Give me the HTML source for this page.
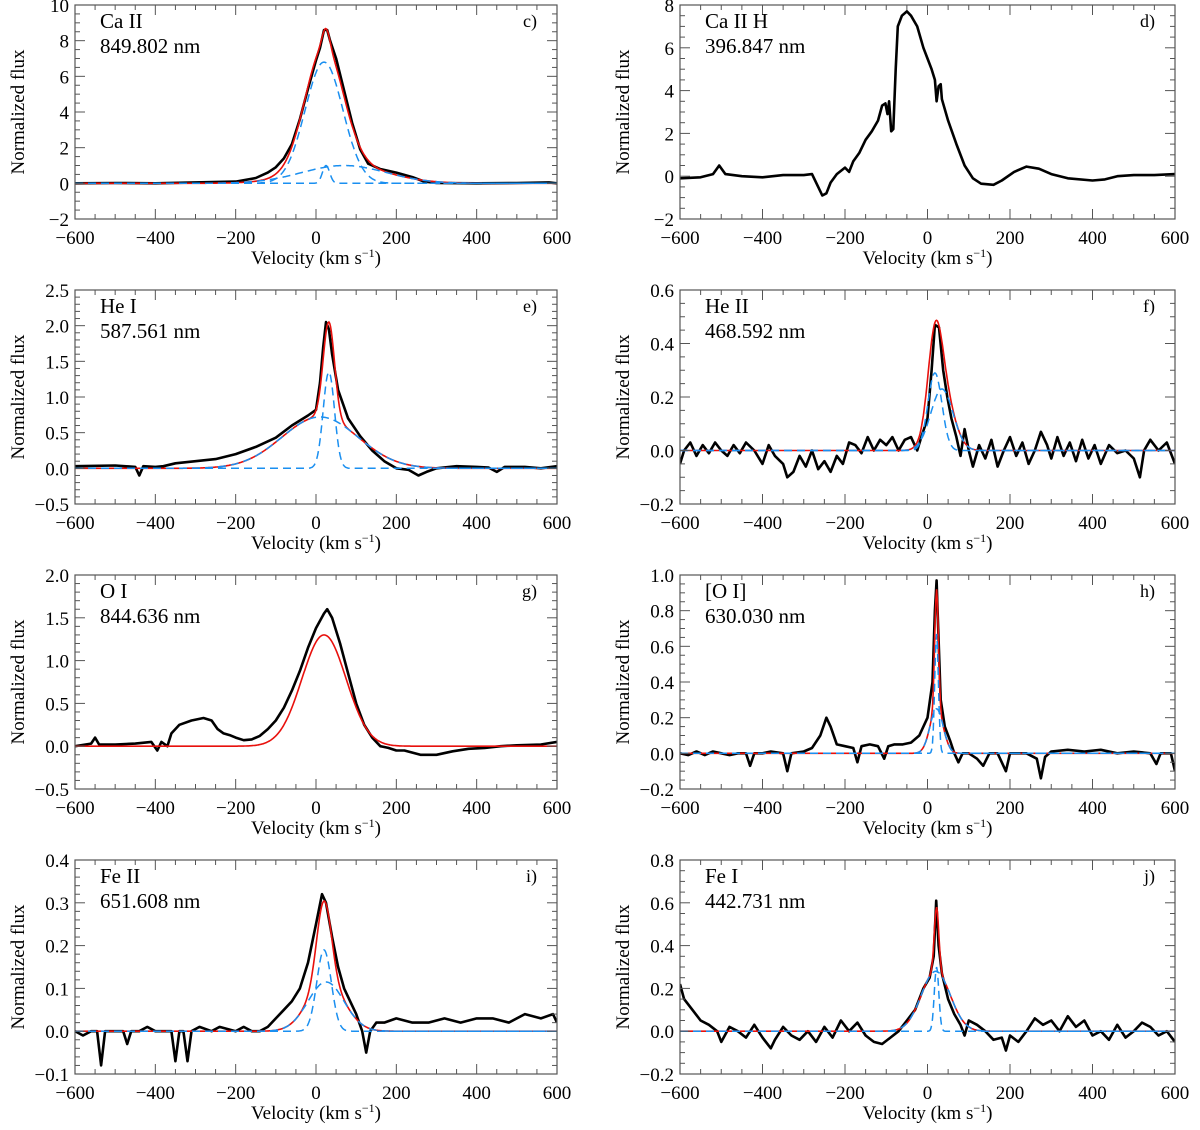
<!DOCTYPE html>
<html><head><meta charset="utf-8"><style>
body{margin:0;background:#fff;}
svg text{font-family:"Liberation Serif",serif;fill:#000;}
</style></head><body>
<svg id="fig" width="1200" height="1125" viewBox="0 0 1200 1125" xmlns="http://www.w3.org/2000/svg"></svg>
<script>
// ---- Panel c: Ca II 849.802 ----
const obsV_c=[-600,-500,-400,-300,-200,-150,-120,-100,-80,-60,-40,-20,0,10,20,28,35,50,70,90,110,130,160,200,240,270,300,400,500,580,600];
const obsF_c=[0,0.02,0,0.05,0.1,0.3,0.6,0.9,1.4,2.2,3.6,5.3,6.9,7.6,8.6,8.6,8.0,7.0,5.2,3.4,1.9,1.1,0.8,0.6,0.35,0.1,0.02,0,0.02,0.05,0];
const compAmp_c=[6.8,1.0,1.0], compCen_c=[20,25,70], compSig_c=[47,9,105];
// ---- Panel d: Ca II H 396.847 ----
const obsV_d=[-600,-550,-520,-505,-490,-450,-400,-350,-300,-280,-265,-255,-245,-235,-220,-200,-190,-180,-165,-150,-135,-120,-110,-102,-97,-93,-88,-83,-77,-72,-62,-50,-40,-25,-10,0,10,18,22,27,32,35,50,70,90,110,130,160,180,210,240,270,300,340,400,430,460,500,550,600];
const obsF_d=[-0.1,-0.05,0.1,0.5,0.1,0,-0.05,0.05,0.05,0.1,-0.5,-0.9,-0.8,-0.3,0.1,0.4,0.2,0.7,1.1,1.7,2.1,2.6,3.3,3.4,2.9,3.5,2.1,2.2,5.0,7.0,7.5,7.7,7.5,7.0,6.0,5.5,5.0,4.5,3.5,4.2,4.3,3.6,2.6,1.5,0.5,-0.1,-0.35,-0.4,-0.2,0.2,0.45,0.35,0.1,-0.1,-0.2,-0.15,0,0.05,0.05,0.1];
const compAmp_d=[], compCen_d=[], compSig_d=[];
// ---- Panel e: He I 587.561 ----
const obsV_e=[-600,-500,-450,-440,-430,-400,-380,-350,-300,-250,-200,-150,-100,-60,-20,0,10,18,25,32,40,55,80,110,140,170,200,230,255,275,300,350,400,430,450,470,520,560,600];
const obsF_e=[0.03,0.04,0.02,-0.1,0.03,0.02,0.03,0.07,0.1,0.13,0.2,0.3,0.43,0.6,0.74,0.82,1.2,1.7,2.05,1.95,1.6,1.1,0.7,0.45,0.25,0.1,0.0,-0.02,-0.1,-0.05,0.0,0.03,0.02,0.01,-0.05,0.02,0.02,0.0,0.03];
const compAmp_e=[1.35,0.72], compCen_e=[32,10], compSig_e=[14,95];
// ---- Panel f: He II 468.592 ----
const obsV_f=[-600,-590,-575,-560,-545,-530,-515,-500,-485,-470,-455,-440,-420,-400,-385,-370,-350,-340,-325,-310,-295,-280,-265,-250,-235,-220,-205,-190,-175,-160,-145,-130,-115,-100,-85,-70,-55,-40,-25,-15,0,10,18,28,38,48,58,70,80,90,100,110,125,140,155,170,185,200,215,230,245,260,275,290,300,315,330,345,360,375,390,405,420,440,460,480,500,515,525,540,560,580,600];
const obsF_f=[-0.05,0.0,0.03,-0.02,0.02,-0.01,0.03,0.0,-0.02,0.02,-0.01,0.03,0.0,-0.05,0.02,-0.02,-0.05,-0.1,-0.08,-0.02,-0.06,0.0,-0.07,-0.04,-0.08,-0.02,-0.05,0.03,0.02,-0.01,0.05,0.0,0.04,0.02,0.05,0.0,0.04,0.05,0.0,0.05,0.12,0.3,0.47,0.46,0.3,0.2,0.12,0.05,-0.02,0.08,0.0,-0.06,0.02,-0.03,0.04,-0.06,0.0,0.05,-0.02,0.03,-0.05,0.0,0.07,0.02,-0.03,0.05,-0.02,0.03,-0.04,0.04,-0.03,0.02,-0.05,0.02,-0.01,0.0,-0.03,-0.1,0.0,0.04,0.0,0.03,-0.05];
const compAmp_f=[0.29,0.23], compCen_f=[18,35], compSig_f=[17,27];
// ---- Panel g: O I 844.636 ----
const obsV_g=[-600,-560,-550,-540,-500,-450,-410,-395,-385,-370,-360,-340,-310,-280,-260,-245,-230,-215,-200,-180,-160,-140,-120,-100,-80,-60,-40,-20,0,20,28,40,60,80,100,120,140,160,180,200,220,260,300,340,380,420,460,500,560,600];
const obsF_g=[0.0,0.03,0.1,0.02,0.02,0.03,0.05,-0.05,0.05,0.0,0.15,0.25,0.3,0.33,0.3,0.2,0.15,0.13,0.1,0.07,0.08,0.12,0.2,0.3,0.45,0.65,0.88,1.15,1.38,1.55,1.6,1.5,1.2,0.85,0.5,0.25,0.1,0.0,-0.02,-0.05,-0.05,-0.1,-0.1,-0.06,-0.03,-0.02,0.0,0.01,0.02,0.05];
const compAmp_g=[1.3], compCen_g=[20], compSig_g=[55];
// ---- Panel h: [O I] 630.030 ----
const obsV_h=[-600,-580,-560,-540,-520,-500,-480,-460,-440,-430,-420,-400,-380,-350,-340,-330,-300,-280,-260,-245,-235,-220,-200,-180,-170,-160,-140,-120,-105,-95,-80,-60,-40,-20,0,12,18,22,26,32,42,55,65,75,85,100,120,135,150,170,190,200,240,265,275,285,300,340,380,420,460,500,540,555,565,590,600];
const obsF_h=[0.0,-0.01,0.01,-0.01,0.01,0.0,-0.01,0.0,0.0,-0.07,0.0,0.0,0.01,0.0,-0.1,0.0,0.01,0.03,0.1,0.2,0.15,0.05,0.04,0.03,-0.05,0.04,0.05,0.04,-0.03,0.04,0.05,0.05,0.06,0.1,0.2,0.4,0.8,0.97,0.7,0.3,0.15,0.07,0.0,-0.05,0.0,0.0,-0.03,-0.07,0.0,0.0,-0.1,0.0,0.0,-0.03,-0.14,-0.02,0.01,0.02,0.01,0.02,0.0,0.01,0.0,-0.06,0.0,0.0,-0.1];
const compAmp_h=[0.67,0.25], compCen_h=[22,22], compSig_h=[4.5,16];
// ---- Panel i: Fe II 651.608 ----
const obsV_i=[-600,-580,-560,-545,-535,-525,-500,-480,-470,-460,-440,-420,-400,-380,-360,-350,-340,-330,-320,-310,-290,-260,-240,-200,-180,-160,-140,-120,-100,-80,-60,-40,-20,0,15,25,40,55,70,85,100,115,125,135,150,170,200,240,280,320,360,400,440,480,520,560,590,600];
const obsF_i=[0.0,-0.01,0.0,0.0,-0.08,0.0,0.0,0.0,-0.03,0.0,0.0,0.01,0.0,0.0,0.0,-0.07,0.0,0.0,-0.07,0.0,0.01,0.0,0.01,0.0,0.01,0.0,0.0,0.01,0.03,0.05,0.07,0.1,0.16,0.25,0.32,0.3,0.22,0.15,0.1,0.07,0.04,0.0,-0.05,0.0,0.02,0.02,0.03,0.02,0.02,0.03,0.02,0.03,0.03,0.02,0.04,0.03,0.04,0.02];
const compAmp_i=[0.19,0.115], compCen_i=[20,25], compSig_i=[18,45];
// ---- Panel j: Fe I 442.731 ----
const obsV_j=[-600,-590,-570,-550,-530,-510,-500,-480,-460,-440,-420,-400,-380,-370,-350,-330,-310,-290,-270,-250,-230,-210,-190,-170,-150,-130,-110,-90,-70,-50,-30,-10,5,15,21,27,35,50,65,80,90,100,120,140,160,180,190,200,220,240,260,280,300,320,340,360,380,400,420,440,460,480,500,520,540,560,580,600];
const obsF_j=[0.22,0.15,0.1,0.05,0.03,0.0,-0.05,0.02,0.0,-0.03,0.03,-0.03,-0.08,-0.04,0.02,-0.02,-0.04,0.0,-0.05,0.02,-0.03,0.05,0.0,0.04,-0.02,-0.05,-0.06,-0.03,0.0,0.05,0.1,0.2,0.25,0.35,0.61,0.4,0.27,0.15,0.08,0.03,-0.02,0.05,0.03,0.0,-0.04,-0.03,-0.09,-0.02,-0.05,0.0,0.06,0.03,0.05,0.0,0.07,0.02,0.05,-0.02,0.0,-0.04,0.03,-0.03,0.0,0.04,0.02,-0.02,0.0,-0.05];
const compAmp_j=[0.3,0.28], compCen_j=[22,20], compSig_j=[5.5,35];

const panels=[
 {id:'c',t1:'Ca II',t2:'849.802 nm',col:0,row:0,ymin:-2,ymax:10,maj:2,nmin:4,dec:0,v:obsV_c,f:obsF_c,a:compAmp_c,m:compCen_c,s:compSig_c,blue:true},
 {id:'d',t1:'Ca II H',t2:'396.847 nm',col:1,row:0,ymin:-2,ymax:8,maj:2,nmin:4,dec:0,v:obsV_d,f:obsF_d,a:compAmp_d,m:compCen_d,s:compSig_d,blue:false},
 {id:'e',t1:'He I',t2:'587.561 nm',col:0,row:1,ymin:-0.5,ymax:2.5,maj:0.5,nmin:5,dec:1,v:obsV_e,f:obsF_e,a:compAmp_e,m:compCen_e,s:compSig_e,blue:true},
 {id:'f',t1:'He II',t2:'468.592 nm',col:1,row:1,ymin:-0.2,ymax:0.6,maj:0.2,nmin:4,dec:1,v:obsV_f,f:obsF_f,a:compAmp_f,m:compCen_f,s:compSig_f,blue:true},
 {id:'g',t1:'O I',t2:'844.636 nm',col:0,row:2,ymin:-0.5,ymax:2.0,maj:0.5,nmin:5,dec:1,v:obsV_g,f:obsF_g,a:compAmp_g,m:compCen_g,s:compSig_g,blue:false},
 {id:'h',t1:'[O I]',t2:'630.030 nm',col:1,row:2,ymin:-0.2,ymax:1.0,maj:0.2,nmin:4,dec:1,v:obsV_h,f:obsF_h,a:compAmp_h,m:compCen_h,s:compSig_h,blue:true},
 {id:'i',t1:'Fe II',t2:'651.608 nm',col:0,row:3,ymin:-0.1,ymax:0.4,maj:0.1,nmin:5,dec:1,v:obsV_i,f:obsF_i,a:compAmp_i,m:compCen_i,s:compSig_i,blue:true},
 {id:'j',t1:'Fe I',t2:'442.731 nm',col:1,row:3,ymin:-0.2,ymax:0.8,maj:0.2,nmin:4,dec:1,v:obsV_j,f:obsF_j,a:compAmp_j,m:compCen_j,s:compSig_j,blue:true}
];
const xTicks=[-600,-400,-200,0,200,400,600];

const NS='http://www.w3.org/2000/svg';
const svg=document.getElementById('fig');
function mk(tag,attrs,parent){const e=document.createElementNS(NS,tag);for(const k in attrs)e.setAttribute(k,attrs[k]);(parent||svg).appendChild(e);return e;}

panels.forEach(p=>{
  const L=p.col?680:75, R=p.col?1175:557, T=5+285*p.row, B=219+285*p.row;
  const xs=v=>L+(v+600)/1200*(R-L);
  const ys=y=>B-(y-p.ymin)/(p.ymax-p.ymin)*(B-T);
  const g=mk('g',{});
  
  
  const cid='clip'+p.id;
  const cp=mk('clipPath',{id:cid},g);mk('rect',{x:L,y:T,width:R-L,height:B-T},cp);
  const pts=p.v.map((v,i)=>xs(v).toFixed(1)+','+ys(p.f[i]).toFixed(1)).join(' ');
  const obs=mk('polyline',{points:pts,fill:'none',stroke:'#000','stroke-width':2.6,'stroke-linejoin':'round','clip-path':'url(#'+cid+')'},g);
  
  
  if(p.a.length){
    const comp=(k,v)=>p.a[k]*Math.exp(-0.5*Math.pow((v-p.m[k])/p.s[k],2));
    let rp=[];
    for(let v=-600;v<=600;v+=2){let s=0;for(let k=0;k<p.a.length;k++)s+=comp(k,v);rp.push(xs(v).toFixed(1)+','+ys(s).toFixed(1));}
    const red=mk('polyline',{points:rp.join(' '),fill:'none',stroke:'#e8100c','stroke-width':1.6,'clip-path':'url(#'+cid+')'},g);
    
    
    if(p.blue){
      for(let k=0;k<p.a.length;k++){
        let bp=[];for(let v=-600;v<=600;v+=2)bp.push(xs(v).toFixed(1)+','+ys(comp(k,v)).toFixed(1));
        const bl=mk('polyline',{points:bp.join(' '),fill:'none',stroke:'#1a8ff0','stroke-width':1.5,'stroke-dasharray':'8,5','clip-path':'url(#'+cid+')'},g);
        
        
      }
    }
  }
  const fr=mk('rect',{x:L,y:T,width:R-L,height:B-T,fill:'none',stroke:'#555','stroke-width':1.2},g);
  
  
  for(let v=-600;v<=600;v+=50){
    const X=xs(v), len=(v%200===0)?10:5;
    mk('line',{x1:X,y1:B,x2:X,y2:B-len,stroke:'#555','stroke-width':1},g);
    mk('line',{x1:X,y1:T,x2:X,y2:T+len,stroke:'#555','stroke-width':1},g);
  }
  xTicks.forEach(v=>{
    const t=mk('text',{x:xs(v),y:B+25,'text-anchor':'middle','font-size':19},g);
    t.textContent=(v<0?'\u2212'+(-v):String(v));
    
    
  });
  const step=p.maj/p.nmin;
  const n=Math.round((p.ymax-p.ymin)/step);
  for(let i=0;i<=n;i++){
    const y=p.ymin+i*step, Y=ys(y), major=(i%p.nmin===0), len=major?10:5;
    mk('line',{x1:L,y1:Y,x2:L+len,y2:Y,stroke:'#555','stroke-width':1},g);
    mk('line',{x1:R,y1:Y,x2:R-len,y2:Y,stroke:'#555','stroke-width':1},g);
    if(major){
      const t=mk('text',{x:L-6,y:Y+7,'text-anchor':'end','font-size':19},g);
      const s=y.toFixed(p.dec);
      t.textContent=(y<-1e-9?'\u2212'+s.slice(1):s.replace('-',''));
      
      
    }
  }
  const xl=mk('text',{x:(L+R)/2,y:B+45,'text-anchor':'middle','font-size':19},g);
  xl.innerHTML='Velocity (km s<tspan dy="-7" font-size="12">\u22121</tspan><tspan dy="7">)</tspan>';
  
  
  const yl=mk('text',{x:0,y:0,'text-anchor':'middle','font-size':19,transform:'translate('+(L-51)+','+((T+B)/2)+') rotate(-90)'},g);
  yl.textContent='Normalized flux';
  
  
  const t1=mk('text',{x:L+25,y:T+23,'font-size':21},g);t1.textContent=p.t1;
  
  
  const t2=mk('text',{x:L+25,y:T+48,'font-size':21},g);t2.textContent=p.t2;
  
  
  const pl=mk('text',{x:R-20,y:T+22,'text-anchor':'end','font-size':18},g);pl.textContent=p.id+')';
  
  
});
</script>
</body></html>
